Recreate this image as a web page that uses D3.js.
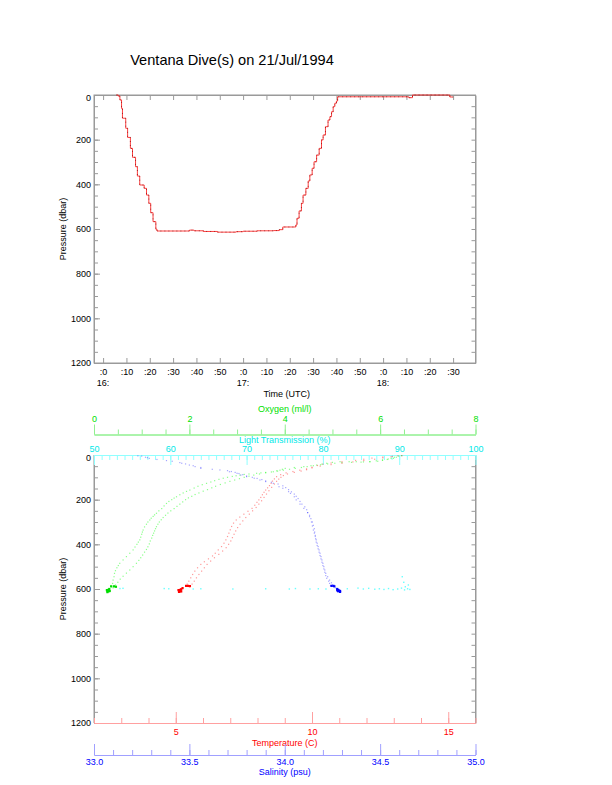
<!DOCTYPE html>
<html><head><meta charset="utf-8">
<script src="https://cdn.jsdelivr.net/npm/d3@7"></script>
<style>
body{margin:0;background:#fff}
svg{display:block}
text{font-family:"Liberation Sans",Arial,Helvetica,sans-serif}
</style>
</head><body>
<svg id="c" width="612" height="785"></svg>
<script>
const chartTitle = "Ventana Dive(s) on 21/Jul/1994";

// ---- top chart: minutes after 16:00 UTC vs pressure (dbar)
const diveMinutes  = [5.7,6.5,7.2,7.9,8.3,9.7,10.5,11.7,12.6,13.9,14.7,15.7,17.6,18.6,19.6,20.4,21.4,22.6,23.1,36,37,39,43,49,57,60,66,73,75.5,77,82.6,83.1,84.0,85.0,85.7,86.9,87.9,88.6,89.6,90.4,91.5,92.6,93.6,94.3,95.3,96.4,97.2,97.9,98.6,99.3,100.0,100.5,130.7,131.0,132.6,148.3,148.6,150.0];
const divePressure = [0,5,22,60,104,149,190,239,279,321,363,403,418,448,485,527,567,601,609,609,605,608,611,614,612,610,608,607,603,591,582,552,519,485,448,418,385,358,328,299,269,239,201,179,142,112,97,75,52,37,27,8,8,12,0,0,9,9];
const timeTicks = [0,10,20,30,40,50,60,70,80,90,100,110,120,130,140,150];
const hourTicks = [0,60,120];
const hourNames = ["16:","17:","18:"];
const pressureTicks = [0,200,400,600,800,1000,1200];

// ---- bottom chart: profiles [pressure, value]
const tempDescent = [[3,13.3],[6,12.95],[9,12.6],[14,12.2],[19,11.9],[24,11.6],[30,11.1],[36,10.7],[41,10.4],[47,10.2],[55,10.0],[62,9.8],[68,9.55],[74,9.3],[80,9.05],[88,8.85],[97,8.7],[107,8.62],[117,8.55],[127,8.5],[137,8.44],[147,8.37],[157,8.3],[167,8.24],[178,8.18],[190,8.12],[201,8.05],[212,7.98],[225,7.9],[239,7.8],[252,7.65],[265,7.5],[278,7.35],[291,7.22],[305,7.12],[320,7.05],[335,7.0],[350,6.95],[365,6.9],[380,6.84],[395,6.77],[410,6.68],[425,6.56],[440,6.45],[452,6.35],[465,6.2],[478,6.05],[490,5.92],[505,5.8],[520,5.7],[535,5.62],[550,5.55],[565,5.48],[578,5.42]];
const tempAscent = [[590,5.5],[578,5.6],[565,5.68],[550,5.76],[535,5.85],[520,5.95],[505,6.05],[490,6.15],[475,6.28],[460,6.42],[445,6.58],[430,6.72],[415,6.85],[400,6.94],[385,7.02],[370,7.08],[355,7.14],[340,7.2],[325,7.27],[310,7.36],[295,7.46],[280,7.57],[265,7.7],[250,7.82],[235,7.95],[220,8.05],[205,8.15],[190,8.24],[175,8.33],[160,8.42],[145,8.52],[130,8.62],[118,8.7],[108,8.78],[100,8.86],[92,8.95],[85,9.1],[78,9.35],[72,9.6],[66,9.8],[58,10.0],[50,10.3],[43,10.7],[37,11.1],[31,11.5],[25,11.9],[19,12.3],[13,12.6],[8,12.9],[4,13.15]];
const tempBottom = [[586,5.38],[586,5.45],[587,5.52],[596,5.25],[601,5.2],[604,5.16],[607,5.13],[610,5.15],[613,5.12],[608,5.18],[605,5.1],[611,5.2]];

const salDescent = [[4,33.23],[10,33.27],[15,33.29],[25,33.38],[37,33.46],[45,33.50],[52,33.53],[60,33.56],[67,33.66],[75,33.71],[82,33.75],[90,33.77],[97,33.80],[104,33.84],[112,33.87],[119,33.90],[127,33.94],[142,33.97],[149,33.99],[164,34.02],[172,34.03],[187,34.05],[201,34.06],[220,34.08],[239,34.10],[258,34.12],[276,34.13],[300,34.14],[318,34.145],[336,34.15],[350,34.155],[365,34.16],[380,34.165],[395,34.17],[410,34.175],[425,34.18],[440,34.185],[455,34.19],[470,34.195],[485,34.20],[500,34.205],[515,34.21],[530,34.215],[545,34.225],[560,34.235],[572,34.245],[582,34.25]];
const salAscent = [[595,34.265],[585,34.24],[575,34.235],[565,34.23],[552,34.22],[540,34.215],[525,34.21],[510,34.205],[495,34.2],[480,34.195],[465,34.19],[450,34.185],[435,34.18],[420,34.175],[405,34.17],[390,34.165],[375,34.162],[360,34.16],[345,34.157],[330,34.155],[315,34.15],[300,34.145],[285,34.137],[270,34.13],[258,34.12],[245,34.115],[232,34.105],[220,34.09],[208,34.08],[195,34.07],[185,34.06],[175,34.05],[165,34.035],[155,34.02],[146,34.005],[138,33.99],[130,33.965],[122,33.93],[116,33.9],[110,33.88],[105,33.855],[100,33.83],[94,33.8],[88,33.78],[83,33.76],[78,33.74],[74,33.72],[70,33.70],[64,33.62],[56,33.56],[48,33.52],[40,33.48],[34,33.45],[28,33.41],[20,33.33],[12,33.28],[5,33.25]];
const salBottom = [[586,34.245],[586,34.255],[588,34.26],[600,34.275],[604,34.28],[607,34.285],[610,34.28],[613,34.29],[606,34.275],[609,34.29]];

const oxyDescent = [[590,0.37],[575,0.39],[560,0.40],[545,0.42],[530,0.43],[518,0.45],[505,0.48],[495,0.51],[485,0.54],[470,0.61],[455,0.68],[440,0.75],[425,0.82],[412,0.86],[400,0.90],[390,0.93],[380,0.96],[368,0.98],[355,1.0],[345,1.015],[336,1.03],[322,1.06],[310,1.10],[300,1.13],[291,1.17],[283,1.2],[275,1.24],[268,1.27],[261,1.31],[250,1.36],[240,1.42],[228,1.47],[217,1.52],[208,1.57],[200,1.63],[193,1.68],[187,1.73],[178,1.8],[170,1.87],[163,1.94],[157,2.01],[148,2.1],[140,2.18],[133,2.27],[127,2.36],[121,2.45],[115,2.53],[109,2.62],[104,2.71],[100,2.8],[96,2.9],[93,2.98],[90,3.06],[87,3.15],[85,3.25],[82,3.41],[80,3.5],[78,3.6],[75,3.76],[71,3.83],[68,3.9],[64,3.95],[60,4.01],[56,4.2],[52,4.4],[48,4.55],[45,4.67],[41,4.78],[37,4.88],[33,5.0],[30,5.16],[30,5.35],[30,5.5],[31,5.65],[30,5.79],[26,5.92],[22,6.05],[18,6.17],[15,6.28],[10,6.34],[5,6.39]];
const oxyAscent = [[595,0.40],[582,0.45],[570,0.50],[556,0.55],[543,0.61],[529,0.68],[515,0.75],[500,0.82],[485,0.89],[472,0.94],[460,0.98],[448,1.02],[435,1.06],[423,1.1],[411,1.13],[398,1.16],[385,1.18],[372,1.21],[360,1.23],[350,1.25],[340,1.27],[330,1.29],[321,1.31],[310,1.34],[300,1.37],[290,1.41],[280,1.45],[270,1.5],[260,1.55],[250,1.61],[240,1.68],[230,1.74],[220,1.80],[210,1.86],[200,1.92],[192,1.98],[185,2.05],[177,2.12],[170,2.2],[162,2.29],[155,2.38],[147,2.47],[140,2.55],[132,2.65],[125,2.75],[118,2.85],[112,2.95],[106,3.05],[100,3.15],[95,3.25],[90,3.35],[85,3.47],[80,3.6],[76,3.72],[72,3.85],[68,3.97],[64,4.1],[60,4.22],[56,4.35],[52,4.47],[48,4.6],[44,4.75],[40,4.9],[37,5.05],[34,5.2],[33,5.4],[32,5.6],[30,5.78],[28,5.95],[24,6.05],[20,6.15],[15,6.23],[10,6.3],[3,6.45]];
const oxyBottom = [[588,0.36],[588,0.42],[590,0.46],[600,0.32],[604,0.3],[607,0.28],[611,0.3],[614,0.28],[609,0.33],[605,0.27]];

const lightTrans = [[598,53.4],[597,53.8],[598,59.2],[599,59.8],[600,63.0],[599,64.0],[600,68.2],[599,72.5],[600,75.6],[598,76.4],[600,78.3],[599,79.4],[600,80.4],[598,81.8],[599,83.2],[596,84.6],[600,85.3],[597,86.0],[601,86.8],[599,87.4],[602,88.0],[598,88.6],[603,89.2],[600,89.8],[596,90.3],[604,90.7],[599,91.1],[602,91.4],[590,90.8],[582,91.2],[570,90.6],[545,90.4]];

const oxyTicks = [0,2,4,6,8];
const ltTicks = [50,60,70,80,90,100];
const tempTicks = [5,10,15];
const salTicks = [33.0,33.5,34.0,34.5,35.0];

// ---- layout
const L = 94, R = 475.5;
const topY0 = 95, topY1 = 363;
const botY0 = 455, botY1 = 723;
const GRAY = "#9a9a9a";

const svg = d3.select("#c");

svg.append("text").attr("x", 232).attr("y", 65).attr("text-anchor","middle")
  .attr("font-size", 14.6).attr("fill","#000").text(chartTitle);

function styleAxis(g, lineColor, textColor){
  g.selectAll("path.domain").attr("stroke", lineColor).attr("stroke-width",1);
  g.selectAll(".tick line").attr("stroke", lineColor).attr("stroke-width",1);
  g.selectAll(".tick text").attr("fill", textColor).attr("font-size", 9)
    .attr("font-family",'"Liberation Sans",Arial,Helvetica,sans-serif');
  return g;
}
function minorRange(a,b,step){
  const n = Math.round((b-a)/step);
  return d3.range(n+1).map(i => +(a + i*step).toFixed(4));
}
function shiftZero(g){
  g.selectAll(".tick text").filter(d => d === 0).attr("dy","0.62em");
  return g;
}

// ================= TOP CHART =================
const xT = d3.scaleLinear().domain([-3.9,159.6]).range([L,R]);
const yT = d3.scaleLinear().domain([0,1200]).range([topY0,topY1]);
const pMinor = minorRange(0,1200,50);

svg.append("rect").attr("x",L).attr("y",topY0).attr("width",R-L).attr("height",topY1-topY0)
  .attr("fill","none").attr("stroke",GRAY);

styleAxis(svg.append("g").attr("transform",`translate(${L},0)`)
  .call(d3.axisLeft(yT).tickValues(pMinor).tickSize(-4).tickSizeOuter(0).tickFormat("")), GRAY, "#000");
shiftZero(styleAxis(svg.append("g").attr("transform",`translate(${L},0)`)
  .call(d3.axisLeft(yT).tickValues(pressureTicks).tickSize(-6).tickSizeOuter(0).tickPadding(3)
  .tickFormat(d3.format("d"))), GRAY, "#000"));
styleAxis(svg.append("g").attr("transform",`translate(${R},0)`)
  .call(d3.axisRight(yT).tickValues(pMinor).tickSize(-4).tickSizeOuter(0).tickFormat("")), GRAY, "#000");
styleAxis(svg.append("g").attr("transform",`translate(0,${topY1})`)
  .call(d3.axisBottom(xT).tickValues(timeTicks).tickSize(-5).tickSizeOuter(0).tickPadding(6)
  .tickFormat(m => ":" + (m % 60))), GRAY, "#000");
styleAxis(svg.append("g").attr("transform",`translate(0,${topY0})`)
  .call(d3.axisTop(xT).tickValues(timeTicks).tickSize(-5).tickSizeOuter(0).tickFormat("")), GRAY, "#000");
svg.append("g").selectAll("text").data(hourTicks).join("text")
  .attr("x", d => xT(d)).attr("y", 385.5).attr("text-anchor","middle")
  .attr("font-size",9).attr("fill","#000").text((d,i) => hourNames[i]);
svg.append("text").attr("x",(L+R)/2+2).attr("y",396.5).attr("text-anchor","middle")
  .attr("font-size",9).text("Time (UTC)");
svg.append("text").attr("transform",`translate(66,${(topY0+topY1)/2}) rotate(-90)`)
  .attr("text-anchor","middle").attr("font-size",9).text("Pressure (dbar)");

const dive = diveMinutes.map((m,i) => [m, divePressure[i]]);
const diveLine = d3.line().x(d => xT(d[0])).y(d => yT(d[1])).curve(d3.curveStepAfter);
svg.append("path").attr("d", diveLine(dive)).attr("fill","none")
  .attr("stroke","#ff2020").attr("stroke-width",1).attr("opacity",0.85);
svg.append("path").attr("d", diveLine(dive)).attr("fill","none")
  .attr("stroke","#500").attr("stroke-width",1).attr("stroke-dasharray","1,3").attr("opacity",0.55);

// ================= BOTTOM CHART =================
const yB = d3.scaleLinear().domain([0,1200]).range([botY0,botY1]);
const xTemp = d3.scaleLinear().domain([2,16]).range([L,R]);
const xSal = d3.scaleLinear().domain([33,35]).range([L,R]);
const xOxy = d3.scaleLinear().domain([0,8]).range([L,R]);
const xLT = d3.scaleLinear().domain([50,100]).range([L,R]);

svg.append("line").attr("x1",L).attr("x2",L).attr("y1",botY0).attr("y2",botY1).attr("stroke",GRAY);
svg.append("line").attr("x1",R).attr("x2",R).attr("y1",botY0).attr("y2",botY1).attr("stroke",GRAY);

styleAxis(svg.append("g").attr("transform",`translate(${L},0)`)
  .call(d3.axisLeft(yB).tickValues(pMinor).tickSize(-4).tickSizeOuter(0).tickFormat("")), GRAY, "#000");
shiftZero(styleAxis(svg.append("g").attr("transform",`translate(${L},0)`)
  .call(d3.axisLeft(yB).tickValues(pressureTicks).tickSize(-6).tickSizeOuter(0).tickPadding(3)
  .tickFormat(d3.format("d"))), GRAY, "#000"));
styleAxis(svg.append("g").attr("transform",`translate(${R},0)`)
  .call(d3.axisRight(yB).tickValues(pMinor).tickSize(-4).tickSizeOuter(0).tickFormat("")), GRAY, "#000");
svg.append("text").attr("transform",`translate(66,${(botY0+botY1)/2}) rotate(-90)`)
  .attr("text-anchor","middle").attr("font-size",9).text("Pressure (dbar)");

// Light transmission (top border)
const CY_L = "#90ffff", CY_T = "#00e8e8";
styleAxis(svg.append("g").attr("transform",`translate(0,${botY0})`)
  .call(d3.axisTop(xLT).tickValues(minorRange(50,100,1)).tickSize(-5).tickSizeOuter(0).tickFormat("")), CY_L, CY_T);
styleAxis(svg.append("g").attr("transform",`translate(0,${botY0})`)
  .call(d3.axisTop(xLT).tickValues(ltTicks).tickSize(-10).tickSizeOuter(0).tickPadding(3)), CY_L, CY_T);
svg.append("text").attr("x",(L+R)/2).attr("y",443).attr("text-anchor","middle")
  .attr("font-size",9).attr("fill",CY_T).text("Light Transmission (%)");

// Oxygen axis
const GR_L = "#90f090", GR_T = "#00e000";
const oxyY = 434.5;
styleAxis(svg.append("g").attr("transform",`translate(0,${oxyY})`)
  .call(d3.axisTop(xOxy).tickValues(minorRange(0,8,0.5)).tickSize(5).tickSizeOuter(0).tickFormat("")), GR_L, GR_T);
styleAxis(svg.append("g").attr("transform",`translate(0,${oxyY})`)
  .call(d3.axisTop(xOxy).tickValues(oxyTicks).tickSize(10).tickSizeOuter(0).tickPadding(2.5)), GR_L, GR_T);
svg.append("text").attr("x",(L+R)/2).attr("y",411.8).attr("text-anchor","middle")
  .attr("font-size",9).attr("fill",GR_T).text("Oxygen (ml/l)");

// Temperature axis (bottom border)
const RD_L = "#ffa0a0", RD_T = "#ff0000";
styleAxis(svg.append("g").attr("transform",`translate(0,${botY1})`)
  .call(d3.axisBottom(xTemp).tickValues(minorRange(2,16,1)).tickSize(-5).tickSizeOuter(0).tickFormat("")), RD_L, RD_T);
styleAxis(svg.append("g").attr("transform",`translate(0,${botY1})`)
  .call(d3.axisBottom(xTemp).tickValues(tempTicks).tickSize(-11).tickSizeOuter(0).tickPadding(6)), RD_L, RD_T);
svg.append("text").attr("x",(L+R)/2).attr("y",745.5).attr("text-anchor","middle")
  .attr("font-size",9).attr("fill",RD_T).text("Temperature (C)");

// Salinity axis
const BL_L = "#a0a0ff", BL_T = "#0000ff";
const salY = 755;
styleAxis(svg.append("g").attr("transform",`translate(0,${salY})`)
  .call(d3.axisBottom(xSal).tickValues(minorRange(33,35,0.1)).tickSize(-5).tickSizeOuter(0).tickFormat("")), BL_L, BL_T);
styleAxis(svg.append("g").attr("transform",`translate(0,${salY})`)
  .call(d3.axisBottom(xSal).tickValues(salTicks).tickSize(-11).tickSizeOuter(0).tickPadding(4)
  .tickFormat(d3.format(".1f"))), BL_L, BL_T);
svg.append("text").attr("x",(L+R)/2).attr("y",774.9).attr("text-anchor","middle")
  .attr("font-size",9).attr("fill",BL_T).text("Salinity (psu)");

function dots(data, xs, color, size, op){
  svg.append("g").selectAll("rect").data(data).join("rect")
    .attr("x", d => xs(d[1]) - size/2).attr("y", d => yB(d[0]) - size/2)
    .attr("width", size).attr("height", size).attr("fill", color).attr("opacity", op);
}
dots(lightTrans, xLT, "#00ffff", 1.4, 0.6);
dots(oxyDescent, xOxy, "#00ff00", 1.2, 0.45);
dots(oxyAscent, xOxy, "#00ff00", 1.2, 0.45);
dots(tempDescent, xTemp, "#ff0000", 1.2, 0.4);
dots(tempAscent, xTemp, "#ff0000", 1.2, 0.4);
dots(salDescent, xSal, "#0000ff", 1.2, 0.35);
dots(salAscent, xSal, "#0000ff", 1.2, 0.35);
dots(oxyBottom, xOxy, "#00dd00", 2.2, 1);
dots(tempBottom, xTemp, "#ff0000", 2.2, 1);
dots(salBottom, xSal, "#0000ff", 2.2, 1);
</script>
</body></html>
